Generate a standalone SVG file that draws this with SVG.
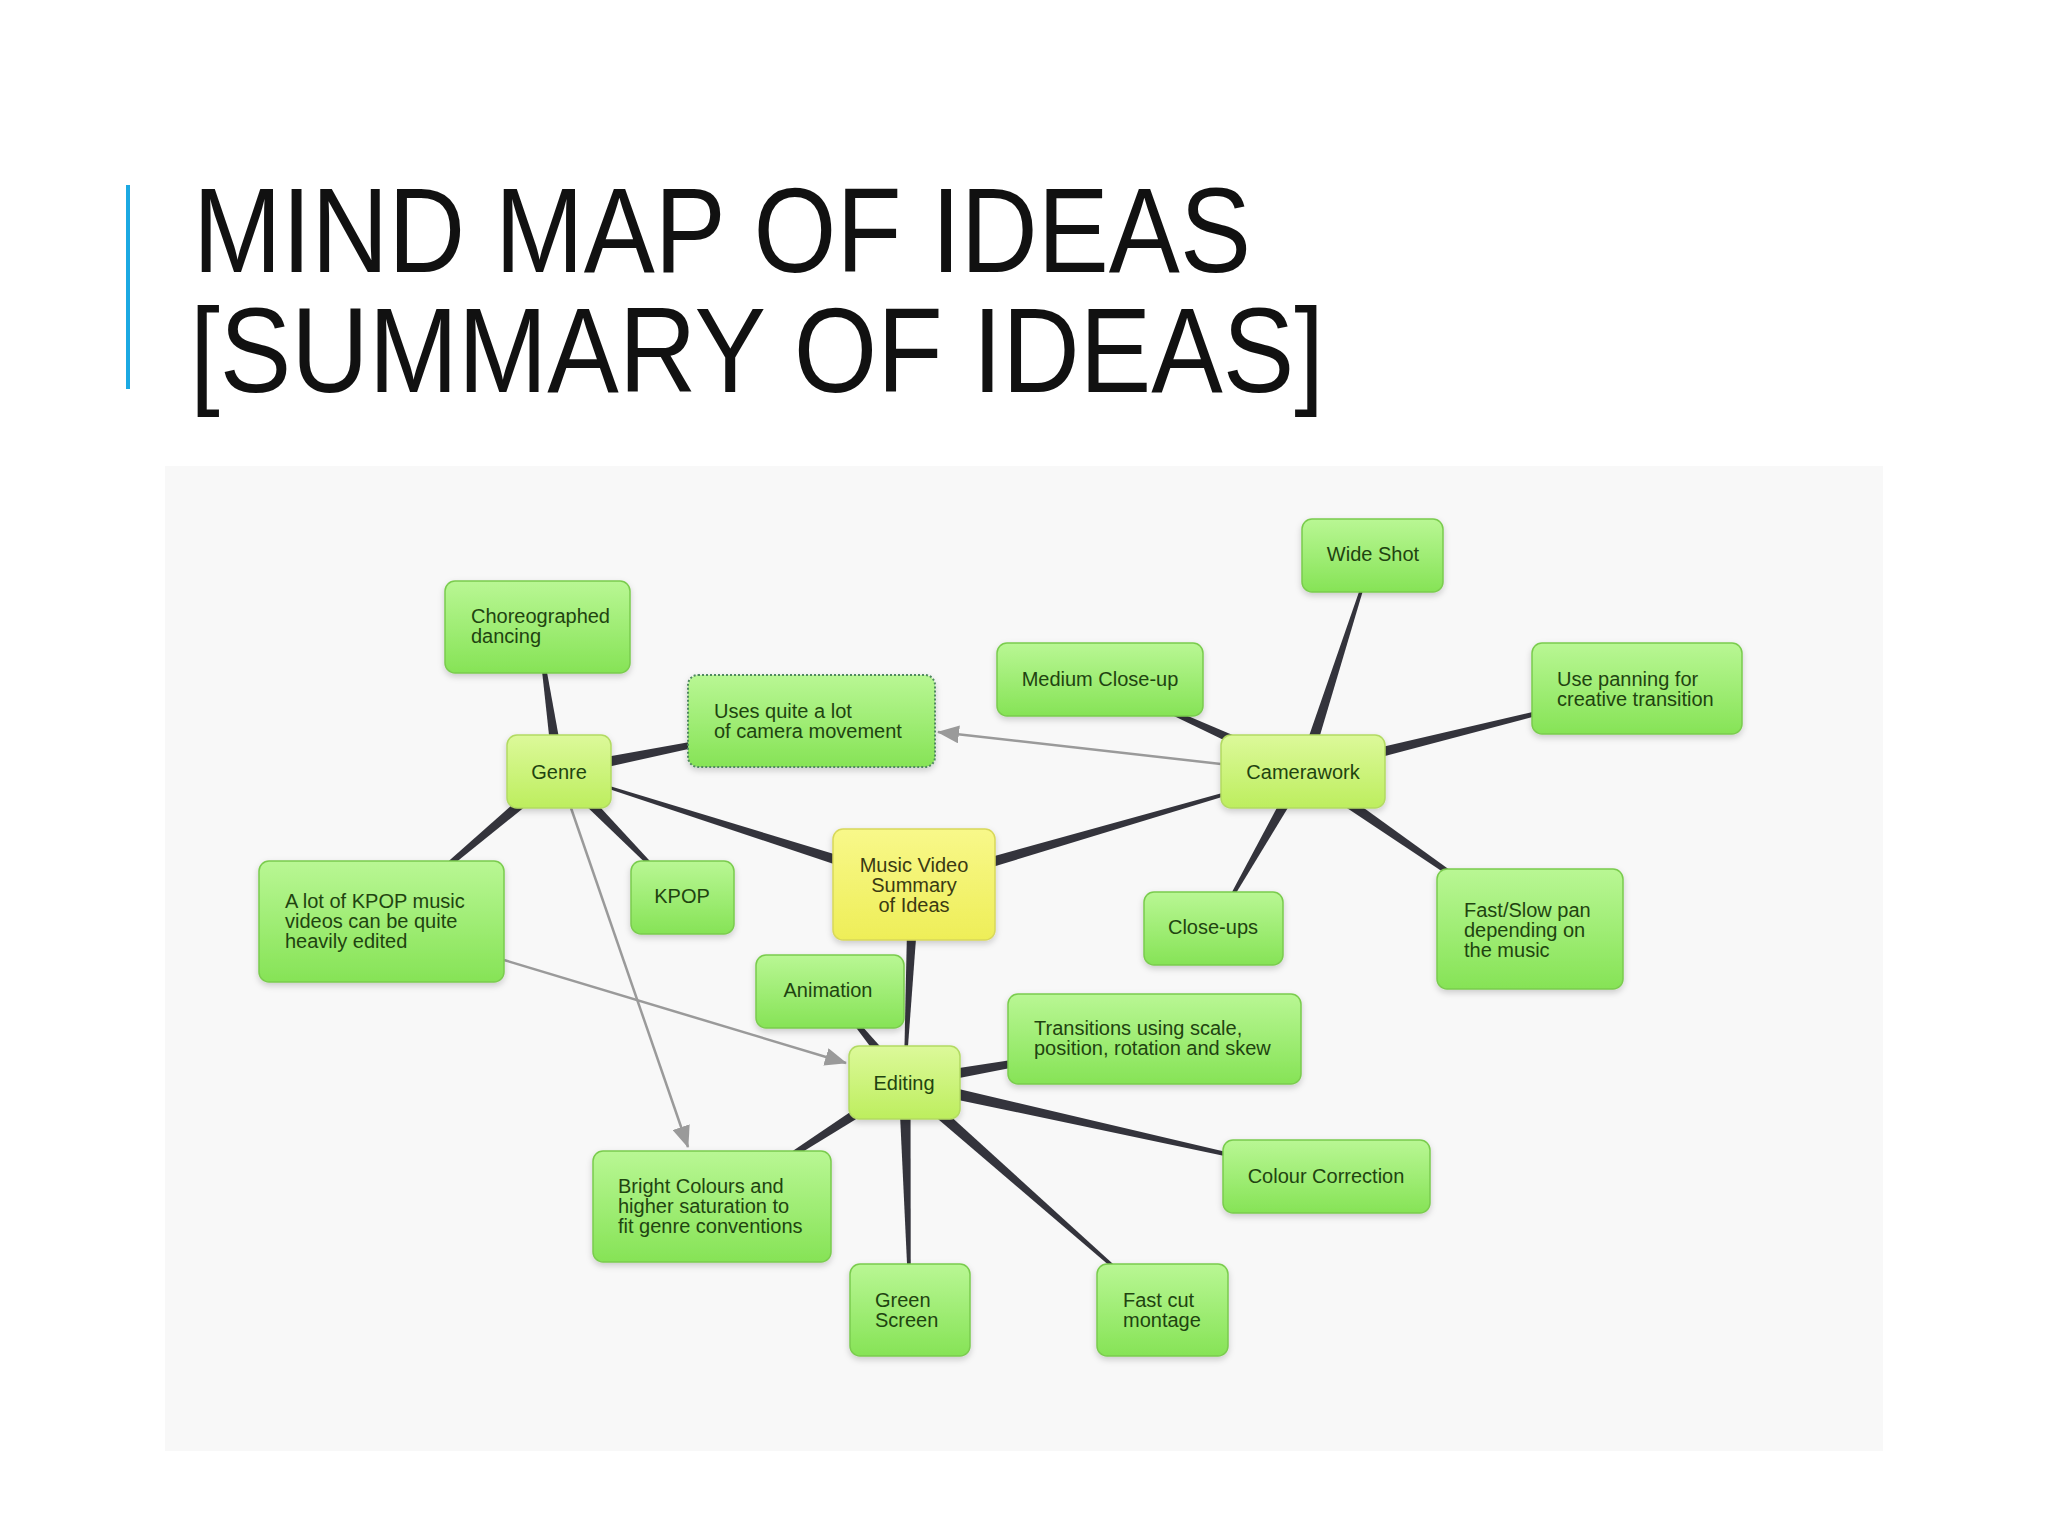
<svg xmlns="http://www.w3.org/2000/svg" width="2048" height="1536" viewBox="0 0 2048 1536">
<defs>
<linearGradient id="gGreen" x1="0" y1="0" x2="0" y2="1">
<stop offset="0" stop-color="#b9f794"/>
<stop offset="1" stop-color="#86e356"/>
</linearGradient>
<linearGradient id="gHub" x1="0" y1="0" x2="0" y2="1">
<stop offset="0" stop-color="#dcf99a"/>
<stop offset="1" stop-color="#bdee5e"/>
</linearGradient>
<linearGradient id="gCenter" x1="0" y1="0" x2="0" y2="1">
<stop offset="0" stop-color="#f8f88a"/>
<stop offset="1" stop-color="#eeee58"/>
</linearGradient>
<filter id="sh" x="-20%" y="-20%" width="140%" height="150%">
<feDropShadow dx="0" dy="3" stdDeviation="3" flood-color="#000" flood-opacity="0.18"/>
</filter>
<marker id="ah" markerUnits="userSpaceOnUse" markerWidth="22" markerHeight="18" refX="21" refY="9" orient="auto">
<path d="M0,0 L22,9 L0,18 z" fill="#9a9a9a"/>
</marker>
<style>
.title{font-family:"Liberation Sans Narrow","Liberation Sans",Arial,sans-serif;font-size:120px;fill:#111;}
.n rect{filter:url(#sh);stroke-width:1.5;}
.g rect{fill:url(#gGreen);stroke:#7acc4e;}
.h rect{fill:url(#gHub);stroke:#b2da62;}
.c rect{fill:url(#gCenter);stroke:#d8d85a;}
.d rect{stroke:#4f8a5e;stroke-dasharray:2 2;stroke-width:2;}
.n text{font-family:"Liberation Sans",Arial,sans-serif;font-size:20px;fill:#1f4410;}
.c text{fill:#3a3a12;}
.ctr{text-anchor:middle;}
.wedge{fill:#34343c;}
.arr{stroke:#9a9a9a;stroke-width:2.5;fill:none;marker-end:url(#ah);}
</style>
</defs>
<rect x="0" y="0" width="2048" height="1536" fill="#ffffff"/>
<rect x="126" y="185" width="4" height="204" fill="#1ca9e2"/>
<text class="title" x="193" y="272" textLength="1058" lengthAdjust="spacingAndGlyphs">MIND MAP OF IDEAS</text>
<text class="title" x="190" y="392" textLength="1134" lengthAdjust="spacingAndGlyphs">[SUMMARY OF IDEAS]</text>
<rect x="165" y="466" width="1718" height="985" fill="#f8f8f8"/>

<g id="connectors">
<polygon class="wedge" points="915.8,878.8 559.2,770.7 558.8,772.3 912.2,890.2"/>
<polygon class="wedge" points="915.7,890.3 1303.2,772.3 1302.8,770.7 912.3,878.7"/>
<polygon class="wedge" points="908,884.2 903.7,1082.5 905.3,1082.5 920,884.8"/>
<polygon class="wedge" points="564.9,770.6 538.8,626.9 537.2,627.1 553.1,772.4"/>
<polygon class="wedge" points="560.2,777.4 811.7,721.8 811.3,720.2 557.8,765.6"/>
<polygon class="wedge" points="554.7,775.7 681.9,898.1 683.1,896.9 563.3,767.3"/>
<polygon class="wedge" points="555.1,766.9 381,920.9 382,922.1 562.9,776.1"/>
<polygon class="wedge" points="1305.5,766 1100.3,678.8 1099.7,680.2 1300.5,777"/>
<polygon class="wedge" points="1308.7,773.3 1373.3,555.7 1371.7,555.3 1297.3,769.7"/>
<polygon class="wedge" points="1304.4,777.3 1637.2,689.3 1636.8,687.7 1301.6,765.7"/>
<polygon class="wedge" points="1297.8,768.5 1212.8,928.1 1214.2,928.9 1308.2,774.5"/>
<polygon class="wedge" points="1299.6,776.4 1529.5,929.7 1530.5,928.3 1306.4,766.6"/>
<polygon class="wedge" points="909.1,1078.7 830.6,991 829.4,992 899.9,1086.3"/>
<polygon class="wedge" points="905.5,1088.4 1154.6,1039.8 1154.4,1038.2 903.5,1076.6"/>
<polygon class="wedge" points="903.2,1088.4 1326.3,1177.3 1326.7,1175.7 905.8,1076.6"/>
<polygon class="wedge" points="900.5,1087 1162,1310.6 1163,1309.4 908.5,1078"/>
<polygon class="wedge" points="898.5,1082.6 909.2,1310 910.8,1310 910.5,1082.4"/>
<polygon class="wedge" points="901.3,1077.5 711.6,1205.8 712.4,1207.2 907.7,1087.5"/>
<line class="arr" x1="1221" y1="764" x2="938" y2="732"/>
<line class="arr" x1="504" y1="960" x2="846" y2="1063"/>
<line class="arr" x1="571" y1="808" x2="688" y2="1147"/>
</g>

<g id="node-choreographed" class="n g"><rect x="445" y="581" width="185" height="92" rx="10"/><text x="471" y="623">Choreographed</text><text x="471" y="643">dancing</text></g>
<g id="node-genre" class="n h"><rect x="507" y="735" width="104" height="73" rx="10"/><text class="ctr" x="559" y="779">Genre</text></g>
<g id="node-camera-movement" class="n g d"><rect x="688" y="675" width="247" height="92" rx="10"/><text x="714" y="718">Uses quite a lot</text><text x="714" y="738">of camera movement</text></g>
<g id="node-medium-closeup" class="n g"><rect x="997" y="643" width="206" height="73" rx="10"/><text class="ctr" x="1100" y="686">Medium Close-up</text></g>
<g id="node-wide-shot" class="n g"><rect x="1302" y="519" width="141" height="73" rx="10"/><text class="ctr" x="1373" y="561">Wide Shot</text></g>
<g id="node-panning" class="n g"><rect x="1532" y="643" width="210" height="91" rx="10"/><text x="1557" y="686">Use panning for</text><text x="1557" y="706">creative transition</text></g>
<g id="node-camerawork" class="n h"><rect x="1221" y="735" width="164" height="73" rx="10"/><text class="ctr" x="1303" y="779">Camerawork</text></g>
<g id="node-center" class="n c"><rect x="833" y="829" width="162" height="111" rx="10"/><text class="ctr" x="914" y="872">Music Video</text><text class="ctr" x="914" y="892">Summary</text><text class="ctr" x="914" y="912">of Ideas</text></g>
<g id="node-kpop" class="n g"><rect x="631" y="861" width="103" height="73" rx="10"/><text class="ctr" x="682" y="903">KPOP</text></g>
<g id="node-kpop-edited" class="n g"><rect x="259" y="861" width="245" height="121" rx="10"/><text x="285" y="908">A lot of KPOP music</text><text x="285" y="928">videos can be quite</text><text x="285" y="948">heavily edited</text></g>
<g id="node-closeups" class="n g"><rect x="1144" y="892" width="139" height="73" rx="10"/><text class="ctr" x="1213" y="934">Close-ups</text></g>
<g id="node-fast-slow" class="n g"><rect x="1437" y="869" width="186" height="120" rx="10"/><text x="1464" y="917">Fast/Slow pan</text><text x="1464" y="937">depending on</text><text x="1464" y="957">the music</text></g>
<g id="node-animation" class="n g"><rect x="756" y="955" width="148" height="73" rx="10"/><text class="ctr" x="828" y="997">Animation</text></g>
<g id="node-transitions" class="n g"><rect x="1008" y="994" width="293" height="90" rx="10"/><text x="1034" y="1035">Transitions using scale,</text><text x="1034" y="1055">position, rotation and skew</text></g>
<g id="node-editing" class="n h"><rect x="849" y="1046" width="111" height="73" rx="10"/><text class="ctr" x="904" y="1090">Editing</text></g>
<g id="node-colour-correction" class="n g"><rect x="1223" y="1140" width="207" height="73" rx="10"/><text class="ctr" x="1326" y="1183">Colour Correction</text></g>
<g id="node-bright-colours" class="n g"><rect x="593" y="1151" width="238" height="111" rx="10"/><text x="618" y="1193">Bright Colours and</text><text x="618" y="1213">higher saturation to</text><text x="618" y="1233">fit genre conventions</text></g>
<g id="node-green-screen" class="n g"><rect x="850" y="1264" width="120" height="92" rx="10"/><text x="875" y="1307">Green</text><text x="875" y="1327">Screen</text></g>
<g id="node-fast-cut" class="n g"><rect x="1097" y="1264" width="131" height="92" rx="10"/><text x="1123" y="1307">Fast cut</text><text x="1123" y="1327">montage</text></g>
</svg>
